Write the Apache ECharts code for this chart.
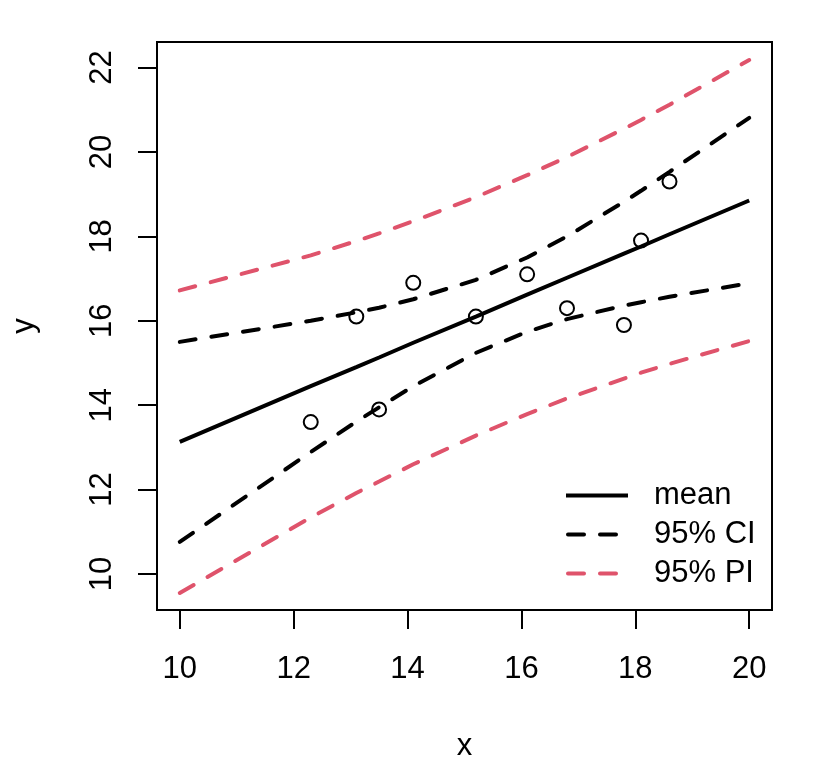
<!DOCTYPE html>
<html>
<head>
<meta charset="utf-8">
<script src="https://cdn.jsdelivr.net/npm/echarts@6/dist/echarts.min.js"></script>
<style>
html,body{margin:0;padding:0;background:#fff;}
#chart{width:816px;height:768px;}
</style>
</head>
<body>
<div id="chart"></div>
<script>
// observed points
var pointX = [12.3, 13.1, 13.5, 14.1, 15.2, 16.1, 16.8, 17.8, 18.1, 18.6];
var pointY = [13.6, 16.1, 13.9, 16.9, 16.1, 17.1, 16.3, 15.9, 17.9, 19.3];
// fitted line and bands, read at the vertices where the curves bend
var fitX   = [10, 12.3, 13.1, 13.5, 14.1, 15.2, 16.1, 16.8, 17.8, 18.1, 18.6, 20];
var meanY  = [13.13, 14.45, 14.90, 15.13, 15.48, 16.10, 16.62, 17.02, 17.59, 17.76, 18.05, 18.85];
var ciLow  = [10.76, 12.89, 13.61, 13.95, 14.45, 15.24, 15.74, 16.04, 16.36, 16.44, 16.57, 16.89];
var ciHigh = [15.50, 16.00, 16.20, 16.31, 16.51, 16.97, 17.50, 18.00, 18.82, 19.08, 19.53, 20.81];
var piLow  = [9.55, 11.34, 11.92, 12.19, 12.60, 13.28, 13.79, 14.16, 14.63, 14.77, 14.98, 15.52];
var piHigh = [16.72, 17.55, 17.89, 18.07, 18.36, 18.93, 19.45, 19.88, 20.55, 20.76, 21.12, 22.18];
var xTicks = [10, 12, 14, 16, 18, 20];
var yTicks = [10, 12, 14, 16, 18, 20, 22];
var legendNames = ['mean', '95% CI', '95% PI'];

function pairs(xs, ys) { return xs.map(function (x, i) { return [x, ys[i]]; }); }

var FONT = "'Liberation Sans', Arial, Helvetica, sans-serif";
var RED = '#DF536B';
var chart = echarts.init(document.getElementById('chart'), null, {renderer: 'canvas'});

function lineSeries(name, ys, color, dashed) {
  return {
    name: name, type: 'line', data: pairs(fitX, ys), symbol: 'none', smooth: false,
    animation: false, z: 3,
    itemStyle: {color: color},
    lineStyle: {color: color, width: 4, type: dashed ? [16, 16] : 'solid', cap: dashed ? 'round' : 'butt'}
  };
}

// legend key shapes (solid bar, and two rounded dashes)
var solidIcon = 'path://M0,0h62v4h-62z';
var dashIcon = 'path://M2,0h16a2,2 0 0 1 0,4h-16a2,2 0 0 1 0,-4z M34,0h16a2,2 0 0 1 0,4h-16a2,2 0 0 1 0,-4z M61.95,0h0.05v0.05h-0.05z';

chart.setOption({
  animation: false,
  backgroundColor: '#fff',
  textStyle: {fontFamily: FONT},
  grid: {left: 157, right: 44, top: 42, bottom: 158, show: true,
         borderColor: '#000', borderWidth: 2, backgroundColor: 'transparent'},
  legend: {
    data: [
      {name: legendNames[0], icon: solidIcon, itemStyle: {color: '#000', opacity: 1, borderWidth: 0}},
      {name: legendNames[1], icon: dashIcon, itemStyle: {color: '#000', opacity: 1, borderWidth: 0}},
      {name: legendNames[2], icon: dashIcon, itemStyle: {color: RED, opacity: 1, borderWidth: 0}}
    ],
    orient: 'vertical', left: 566, top: 480, padding: 0,
    itemWidth: 62, itemHeight: 4, itemGap: 8,
    textStyle: {fontSize: 31, color: '#000', fontFamily: FONT, lineHeight: 30, padding: [0, 0, 0, 21]},
    selectedMode: false
  },
  xAxis: {
    type: 'value', min: 9.6, max: 20.4,
    name: 'x', nameLocation: 'middle', nameGap: 121,
    nameTextStyle: {fontSize: 31, color: '#000', fontFamily: FONT},
    axisLine: {show: false},
    axisTick: {show: true, inside: false, length: 19, customValues: xTicks,
               lineStyle: {color: '#000', width: 2}},
    axisLabel: {show: true, customValues: xTicks, margin: 44, fontSize: 31, color: '#000', fontFamily: FONT},
    splitLine: {show: false}
  },
  yAxis: {
    type: 'value', min: 9.147, max: 22.606,
    name: 'y', nameLocation: 'middle', nameGap: 117,
    nameTextStyle: {fontSize: 31, color: '#000', fontFamily: FONT},
    axisLine: {show: false},
    axisTick: {show: true, inside: false, length: 19, customValues: yTicks,
               lineStyle: {color: '#000', width: 2}},
    axisLabel: {show: true, customValues: yTicks, rotate: 90, margin: 39, fontSize: 31, color: '#000', fontFamily: FONT},
    splitLine: {show: false}
  },
  series: [
    {
      name: 'points', type: 'scatter', data: pairs(pointX, pointY), symbol: 'circle', symbolSize: 14,
      z: 2,
      itemStyle: {color: 'rgba(0,0,0,0)', borderColor: '#000', borderWidth: 2, opacity: 1}
    },
    lineSeries('mean', meanY, '#000', false),
    lineSeries('95% CI', ciLow, '#000', true),
    lineSeries('95% CI', ciHigh, '#000', true),
    lineSeries('95% PI', piLow, RED, true),
    lineSeries('95% PI', piHigh, RED, true)
  ]
});
</script>
</body>
</html>
